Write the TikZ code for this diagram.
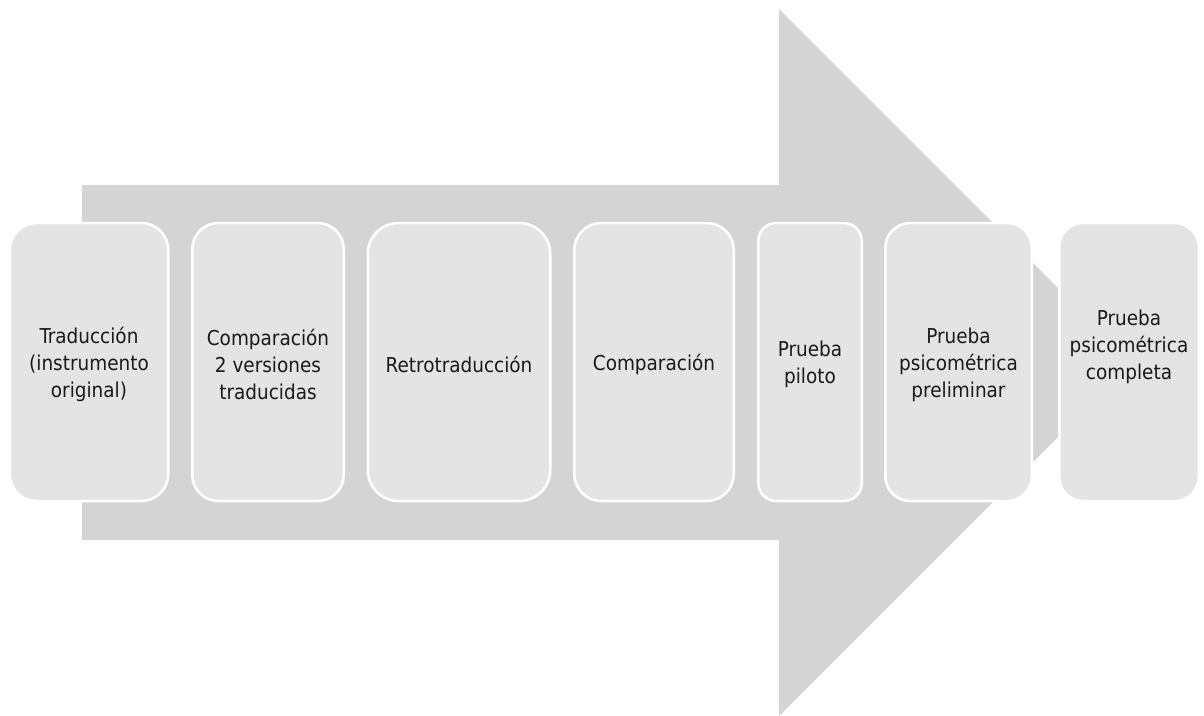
\documentclass[tikz,border=0pt]{standalone}
\usepackage{fontspec}
\setmainfont{DejaVu Sans Condensed}
\definecolor{arrowgray}{HTML}{D4D4D4}
\definecolor{boxgray}{HTML}{E4E4E4}
\definecolor{textdark}{HTML}{1A1A1A}
\begin{document}
\begin{tikzpicture}[x=1pt,y=-1pt,
  stage/.style={draw=white, line width=2.5pt, fill=boxgray, rounded corners=#1,
    inner sep=0pt, minimum height=278pt},
  caption/.style={align=center, font=\fontsize{20.5}{27}\selectfont,
    text=textdark, inner sep=0pt}]
\useasboundingbox (0,0) rectangle (1204,715);

% large block arrow behind the stages
\fill[arrowgray] (82,185) -- (779,185) -- (779,9) -- (1132.5,362.5)
  -- (779,716) -- (779,540) -- (82,540) -- cycle;

% process stages
\node[stage=27pt, minimum width=158.5pt] (s1) at (89,362) {};
\node[stage=26pt, minimum width=151.5pt] (s2) at (268,362) {};
\node[stage=31pt, minimum width=182.5pt] (s3) at (459,362) {};
\node[stage=27pt, minimum width=159.5pt] (s4) at (654,362) {};
\node[stage=18pt, minimum width=103.5pt] (s5) at (810,362) {};
\node[stage=25pt, minimum width=146.5pt] (s6) at (958.5,362) {};
\node[stage=24pt, minimum width=139.5pt] (s7) at (1129,362) {};

% stage texts
\node[caption] (t1) at (89,364.5) {Traducción\\(instrumento\\original)};
\node[caption] (t2) at (268,364.5) {Comparación\\2 versiones\\traducidas};
\node[caption] (t3) at (459,364.5) {Retrotraducción};
\node[caption] (t4) at (654,364.5) {Comparación};
\node[caption] (t5) at (810,364.5) {Prueba\\piloto};
\node[caption] (t6) at (958.5,364.5) {Prueba\\psicométrica\\preliminar};
\node[caption] (t7) at (1129,347) {Prueba\\psicométrica\\completa};
\end{tikzpicture}
\end{document}
